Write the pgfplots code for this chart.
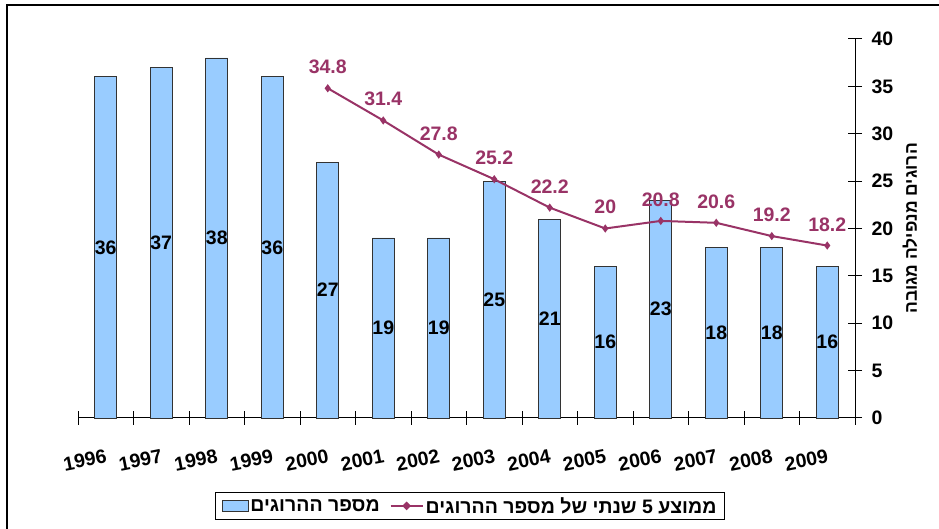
\documentclass[border=0pt]{standalone}
\usepackage{pgfplots}
\pgfplotsset{compat=1.18}
\usepackage{fontspec}
\setmainfont{Liberation Sans}
\newfontfamily\hebfont[Script=Hebrew]{Liberation Sans}
\TeXXeTstate=1
\definecolor{barblue}{HTML}{99CCFF}
\definecolor{linepurple}{HTML}{993366}
\newcommand{\bigfont}{\fontsize{19.5}{22}\selectfont\bfseries}
\begin{document}
\begin{tikzpicture}
\useasboundingbox (0,0) rectangle (939pt,529pt);
\draw[line width=2pt] (7pt,0) -- (7pt,524pt) -- (939pt,524pt);
\begin{axis}[
  at={(78pt,111pt)}, anchor=south west,
  scale only axis, width=777pt, height=379pt,
  xmin=-0.5, xmax=13.5, ymin=0, ymax=40,
  axis x line=bottom, axis y line=right,
  axis line style={-, black, line width=1pt},
  tick style={black, line width=1pt},
  major tick length=14pt, tick align=center,
  xtick={-0.5,0.5,...,13.5},
  xticklabels={1996,1997,1998,1999,2000,2001,2002,2003,2004,2005,2006,2007,2008,2009,{}},
  xticklabel style={rotate=11, anchor=center, yshift=-36pt, font=\bigfont, inner sep=0pt},
  ytick={0,5,...,40},
  yticklabel style={font=\bigfont, xshift=6pt},
  /pgf/number format/assume math mode=true,
  ylabel={\hebfont\bfseries\beginR הרוגים מנפילה מגובה\endR},
  ylabel style={at={(axis description cs:1.0708,0.5)}, anchor=center, font=\fontsize{17.5}{20}\selectfont},
  legend columns=2,
  legend style={at={(axis description cs:0.5045,-0.232)}, anchor=center,
    draw=black, line width=1pt, font=\bigfont, inner xsep=6pt, inner ysep=3pt,
    /tikz/every even column/.append style={column sep=8pt}},
  clip=false,
]
\addplot[ybar, bar width=22pt, fill=barblue, draw=black!80, line width=0.8pt,
  legend image code/.code={\draw[fill=barblue, draw=black!80, line width=0.8pt] (0pt,-5pt) rectangle (26pt,6pt);}]
  coordinates {(0,36) (1,37) (2,38) (3,36) (4,27) (5,19) (6,19) (7,25) (8,21) (9,16) (10,23) (11,18) (12,18) (13,16)};
\addlegendentry{\hebfont\beginR מספר ההרוגים\endR}
\addplot[draw=none, mark=none, forget plot, nodes near coords, point meta=explicit symbolic,
  nodes near coords style={anchor=center, font=\bigfont, text=black}]
  coordinates {(0,18)[36] (1,18.5)[37] (2,19)[38] (3,18)[36] (4,13.5)[27] (5,9.5)[19] (6,9.5)[19] (7,12.5)[25] (8,10.5)[21] (9,8)[16] (10,11.5)[23] (11,9)[18] (12,9)[18] (13,8)[16]};
\addplot[linepurple, line width=2pt, mark=diamond*, mark size=2.5pt,
  nodes near coords, point meta=y,
  nodes near coords style={anchor=south, yshift=10pt, font=\bigfont, text=linepurple},
  legend image code/.code={\draw[linepurple, line width=2pt] (0pt,0pt) -- (32pt,0pt); \fill[linepurple] (16pt,0pt) +(-3pt,0pt) -- +(0pt,3pt) -- +(3pt,0pt) -- +(0pt,-3pt) -- cycle;}]
  coordinates {(4,34.8) (5,31.4) (6,27.8) (7,25.2) (8,22.2) (9,20) (10,20.8) (11,20.6) (12,19.2) (13,18.2)};
\addlegendentry{\hebfont\beginR ממוצע 5 שנתי של מספר ההרוגים\endR}
\end{axis}
\end{tikzpicture}
\end{document}
